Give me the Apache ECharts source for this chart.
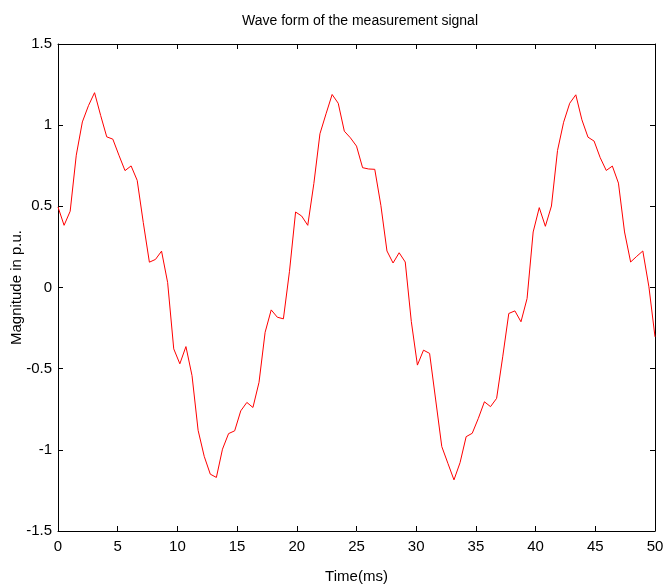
<!DOCTYPE html>
<html>
<head>
<meta charset="utf-8">
<script src="https://cdn.jsdelivr.net/npm/echarts@6/dist/echarts.min.js"></script>
<style>
html,body{margin:0;padding:0;background:#fff;}
#chart{width:663px;height:588px;}
</style>
</head>
<body>
<div id="chart"></div>
<script>
// Measured samples (p.u.), evenly spaced over 0..50 ms (99 samples)
const magnitude = [
  0.496, 0.383, 0.47, 0.815, 1.02, 1.12, 1.20, 1.06, 0.928, 0.914,
  0.815, 0.72, 0.749, 0.66, 0.40, 0.156, 0.173, 0.224, 0.03, -0.378,
  -0.47, -0.364, -0.543, -0.88, -1.04, -1.15, -1.17, -0.996, -0.90, -0.883,
  -0.76, -0.708, -0.739, -0.584, -0.276, -0.138, -0.183, -0.193, 0.10, 0.465,
  0.44, 0.383, 0.64, 0.947, 1.07, 1.189, 1.135, 0.963, 0.922, 0.871,
  0.738, 0.73, 0.728, 0.506, 0.225, 0.151, 0.214, 0.157, -0.21, -0.478,
  -0.386, -0.406, -0.693, -0.98, -1.083, -1.185, -1.079, -0.919, -0.898, -0.806,
  -0.704, -0.734, -0.683, -0.427, -0.16, -0.144, -0.211, -0.068, 0.342, 0.492,
  0.377, 0.502, 0.844, 1.018, 1.135, 1.187, 1.033, 0.926, 0.902, 0.80,
  0.721, 0.748, 0.643, 0.342, 0.157, 0.192, 0.225, 0.004, -0.304
];
const timeStart = 0;
const timeEnd = 50;
const sampleStep = (timeEnd - timeStart) / (magnitude.length - 1);
const timeMs = magnitude.map((_, i) => timeStart + i * sampleStep);

const xTicks = [0, 5, 10, 15, 20, 25, 30, 35, 40, 45, 50];
const yTicks = [-1.5, -1, -0.5, 0, 0.5, 1, 1.5];

const titleText = 'Wave form of the measurement signal';
const xName = 'Time(ms)';
const yName = 'Magnitude in p.u.';

const FONT = "'Liberation Sans Narrow', 'Arial Narrow', 'Liberation Sans', sans-serif";

const chart = echarts.init(document.getElementById('chart'), null, {renderer: 'canvas'});

const lineStyle = {color: '#000', width: 1};
const tickStyle = {show: true, inside: true, length: 5, lineStyle: {color: '#000', width: 1}};

chart.setOption({
  animation: false,
  backgroundColor: '#fff',
  title: {
    text: titleText,
    left: 355,
    top: 9,
    textAlign: 'center',
    textStyle: {fontFamily: FONT, fontSize: 14, fontWeight: 'normal', color: '#000'}
  },
  grid: {left: 58, right: 8, top: 44, bottom: 57, containLabel: false, outerBoundsMode: 'none'},
  xAxis: [
    {
      type: 'value', position: 'bottom',
      min: xTicks[0], max: xTicks[xTicks.length - 1], interval: 5,
      axisLine: {show: true, onZero: false, lineStyle: lineStyle},
      axisTick: tickStyle,
      axisLabel: {color: '#000', fontFamily: FONT, fontSize: 15, margin: 8},
      splitLine: {show: false},
      name: xName, nameLocation: 'middle', nameGap: 38, nameMoveOverlap: false,
      nameTextStyle: {color: '#000', fontFamily: FONT, fontSize: 15}
    },
    {
      type: 'value', position: 'top',
      min: xTicks[0], max: xTicks[xTicks.length - 1], interval: 5,
      axisLine: {show: true, onZero: false, lineStyle: lineStyle},
      axisTick: tickStyle,
      axisLabel: {show: false},
      splitLine: {show: false}
    }
  ],
  yAxis: [
    {
      type: 'value', position: 'left',
      min: yTicks[0], max: yTicks[yTicks.length - 1], interval: 0.5,
      axisLine: {show: true, onZero: false, lineStyle: lineStyle},
      axisTick: tickStyle,
      axisLabel: {color: '#000', fontFamily: FONT, fontSize: 15, margin: 6},
      splitLine: {show: false},
      name: yName, nameLocation: 'middle', nameGap: 34, nameRotate: 90, nameMoveOverlap: false,
      nameTextStyle: {color: '#000', fontFamily: FONT, fontSize: 15}
    },
    {
      type: 'value', position: 'right',
      min: yTicks[0], max: yTicks[yTicks.length - 1], interval: 0.5,
      axisLine: {show: true, onZero: false, lineStyle: lineStyle},
      axisTick: tickStyle,
      axisLabel: {show: false},
      splitLine: {show: false}
    }
  ],
  series: [{
    type: 'line',
    xAxisIndex: 0, yAxisIndex: 0,
    data: timeMs.map((t, i) => [t, magnitude[i]]),
    showSymbol: false,
    symbol: 'none',
    lineStyle: {color: '#ff0000', width: 1},
    clip: true
  }]
});
</script>
</body>
</html>
